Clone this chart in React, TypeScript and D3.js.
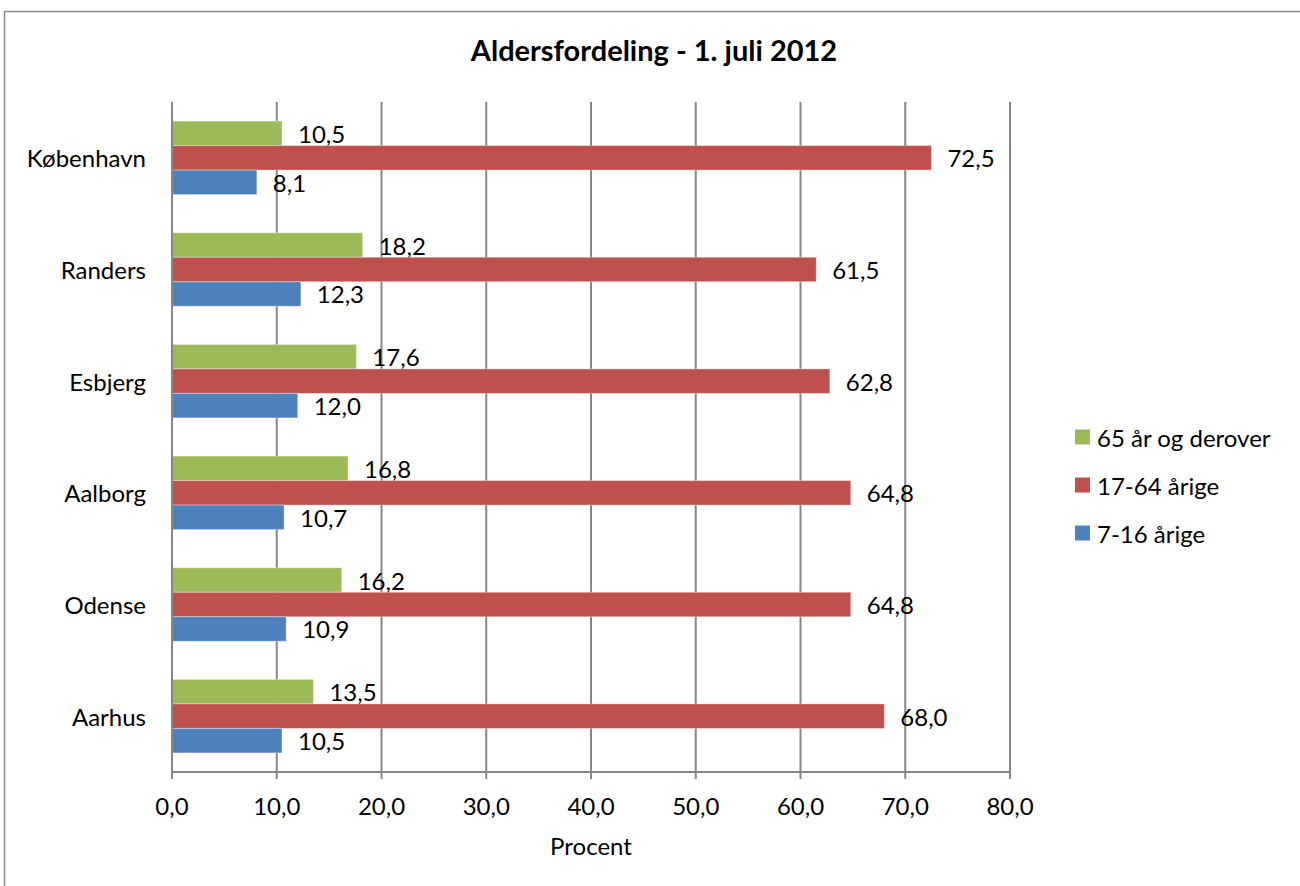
import React from "react";
import * as d3 from "d3";

const categories = ["København", "Randers", "Esbjerg", "Aalborg", "Odense", "Aarhus"];
const seriesNames = ["65 år og derover", "17-64 årige", "7-16 årige"];
const seriesColors = ["#9BBB59", "#C0504D", "#4F81BD"];
const values65plus = [10.5, 18.2, 17.6, 16.8, 16.2, 13.5];
const values17to64 = [72.5, 61.5, 62.8, 64.8, 64.8, 68.0];
const values7to16 = [8.1, 12.3, 12.0, 10.7, 10.9, 10.5];
const xTicks = [0, 10, 20, 30, 40, 50, 60, 70, 80];
const title = "Aldersfordeling - 1. juli 2012";
const xTitle = "Procent";

const seriesValues = [values65plus, values17to64, values7to16];

const FONT = "Lato, 'Open Sans', sans-serif";

export default function App() {
  const W = 1300;
  const H = 886;
  const plot = { left: 172, right: 1010, top: 102, bottom: 772 };

  const x = d3.scaleLinear().domain([0, 80]).range([plot.left, plot.right]);
  const y = d3
    .scaleBand<string>()
    .domain(categories)
    .range([plot.top, plot.bottom])
    .paddingInner(0.342)
    .paddingOuter(0.171);
  const ys = d3
    .scaleBand<string>()
    .domain(seriesNames)
    .range([0, y.bandwidth()])
    .padding(0);

  const fmt = (v: number) => v.toFixed(1).replace(".", ",");
  const grid = "#868686";
  const FS = 24;

  return (
    <svg
      width={W}
      height={H}
      style={{ position: "absolute", left: 0, top: 0, background: "#fff" }}
      fontFamily={FONT}
    >
      <rect x={4.5} y={11.5} width={W + 10} height={H + 10} fill="#fff" stroke="#888" strokeWidth={1.5} />
      <text x={654} y={61} textAnchor="middle" fontSize={29} fontWeight={700} fill="#000">
        {title}
      </text>

      {xTicks.map((t) => (
        <g key={t}>
          <line x1={x(t)} x2={x(t)} y1={plot.top} y2={plot.bottom + 7} stroke={grid} strokeWidth={2} />
          <text x={x(t)} y={815} textAnchor="middle" fontSize={FS} fill="#000">
            {fmt(t)}
          </text>
        </g>
      ))}
      <line x1={plot.left} x2={plot.right} y1={plot.bottom} y2={plot.bottom} stroke={grid} strokeWidth={2} />

      {categories.map((c, i) => (
        <g key={c}>
          <text
            x={146}
            y={(y(c) as number) + y.bandwidth() / 2}
            textAnchor="end"
            dominantBaseline="central"
            fontSize={FS}
            fill="#000"
          >
            {c}
          </text>
          {seriesNames.map((s, j) => {
            const v = seriesValues[j][i];
            const by = (y(c) as number) + (ys(s) as number);
            return (
              <g key={s}>
                <rect
                  x={x(0)}
                  y={by}
                  width={x(v) - x(0)}
                  height={ys.bandwidth()}
                  fill={seriesColors[j]}
                  stroke="rgba(255,255,255,0.35)"
                  strokeWidth={1}
                />
                <text
                  x={x(v) + 16}
                  y={by + ys.bandwidth() / 2}
                  dominantBaseline="central"
                  fontSize={FS}
                  fill="#000"
                >
                  {fmt(v)}
                </text>
              </g>
            );
          })}
        </g>
      ))}
      <line x1={plot.left} x2={plot.left} y1={plot.top} y2={plot.bottom + 7} stroke={grid} strokeWidth={2} />

      <text x={(plot.left + plot.right) / 2} y={855} textAnchor="middle" fontSize={FS} fill="#000">
        {xTitle}
      </text>

      {seriesNames.map((s, j) => (
        <g key={s} transform={`translate(1075, ${437 + j * 48})`}>
          <rect x={0} y={-7.5} width={15} height={15} fill={seriesColors[j]} />
          <text x={22} y={0} dominantBaseline="central" fontSize={FS} fill="#000">
            {s}
          </text>
        </g>
      ))}
    </svg>
  );
}
